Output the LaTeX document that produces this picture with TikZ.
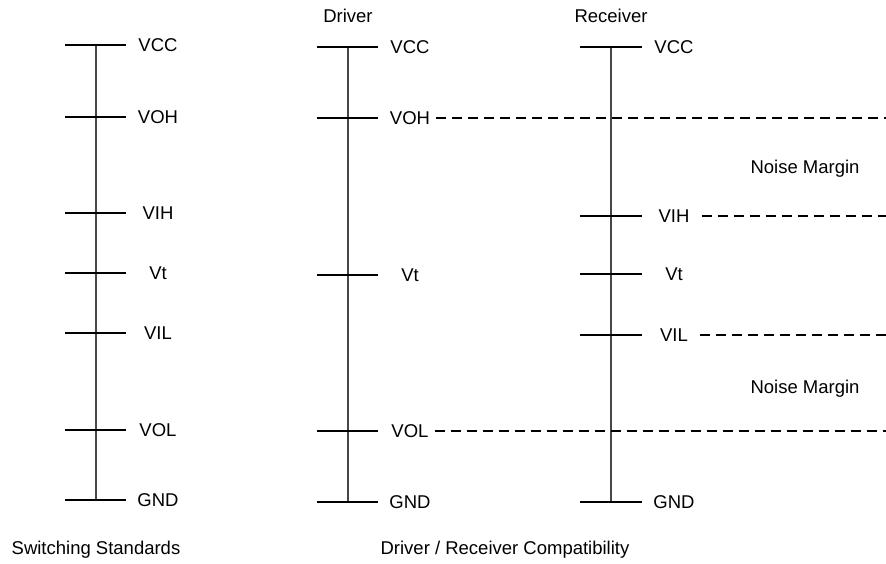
\documentclass[tikz,border=0pt]{standalone}
\usepackage{fontspec}
\setmainfont{Liberation Sans}
\begin{document}
\begin{tikzpicture}[x=1pt,y=-1pt,
  axis/.style={draw=black!72,line width=2pt},
  tick/.style={draw=black,line width=1.3pt},
  dashline/.style={draw=black,line width=1.3pt,dash pattern=on 10pt off 6pt},
  lbl/.style={inner sep=0pt,text depth=0pt,font=\fontsize{18.5}{22}\selectfont,anchor=center}]
\useasboundingbox (0,0) rectangle (886,563);
\fill[white] (0,0) rectangle (886,563);

% ---------- left column: Switching Standards ----------
\coordinate (aT) at (96,45);
\coordinate (aB) at (96,500);
\draw[axis] (aT) -- (aB);
\foreach \n/\y/\t in {VCC/45/VCC,VOH/117/VOH,VIH/213/VIH,Vt/273/Vt,VIL/333/VIL,VOL/430/VOL,GND/500/GND}{
  \coordinate (a\n l) at (65,\y);
  \coordinate (a\n r) at (126,\y);
  \draw[tick] (a\n l) -- (a\n r);
  \node[lbl] (a\n) at (158,\y) {\t};
}
\node[lbl] (titleA) at (96,548) {Switching Standards};

% ---------- driver ----------
\coordinate (dT) at (348,47);
\coordinate (dB) at (348,502);
\draw[axis] (dT) -- (dB);
\foreach \n/\y/\t in {VCC/47/VCC,VOH/118/VOH,Vt/275/Vt,VOL/431/VOL,GND/502/GND}{
  \coordinate (d\n l) at (317,\y);
  \coordinate (d\n r) at (378,\y);
  \draw[tick] (d\n l) -- (d\n r);
  \node[lbl] (d\n) at (410,\y) {\t};
}
\node[lbl] (titleD) at (348,16) {Driver};

% ---------- receiver ----------
\coordinate (rT) at (611,47);
\coordinate (rB) at (611,502);
\draw[axis] (rT) -- (rB);
\foreach \n/\y/\t in {VCC/47/VCC,VIH/216/VIH,Vt/274/Vt,VIL/335/VIL,GND/502/GND}{
  \coordinate (r\n l) at (580,\y);
  \coordinate (r\n r) at (642,\y);
  \draw[tick] (r\n l) -- (r\n r);
  \node[lbl] (r\n) at (674,\y) {\t};
}
\node[lbl] (titleR) at (611,16) {Receiver};

% ---------- dashed level lines ----------
\coordinate (eVOH) at (886,118);
\coordinate (eVIH) at (886,216);
\coordinate (eVIL) at (886,335);
\coordinate (eVOL) at (886,431);
\draw[dashline] ([xshift=6pt]dVOH.east) -- (eVOH);
\draw[dashline] ([xshift=6pt]dVOL.east) -- (eVOL);
\draw[dashline] ([xshift=12pt]rVIH.east) -- (eVIH);
\draw[dashline] ([xshift=12pt]rVIL.east) -- (eVIL);

\node[lbl] (nm1) at (805,167) {Noise Margin};
\node[lbl] (nm2) at (805,387) {Noise Margin};

\node[lbl] (titleC) at (505,548) {Driver / Receiver Compatibility};
\end{tikzpicture}
\end{document}
